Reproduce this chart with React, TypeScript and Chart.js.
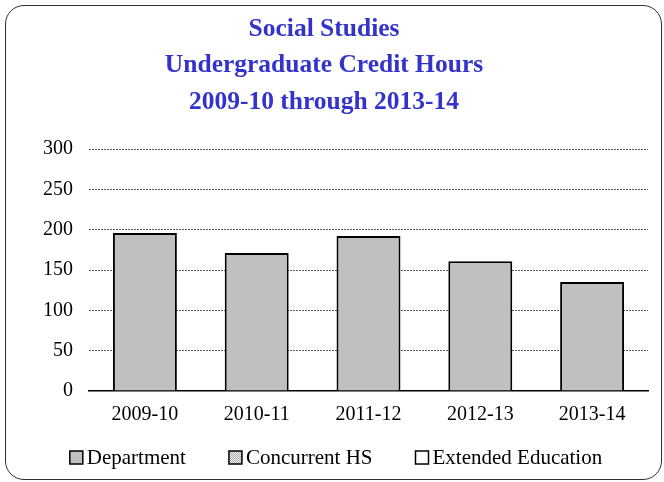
import React, { useEffect, useRef } from "react";
import { Chart, registerables } from "chart.js";

Chart.register(...registerables);

const categories = ["2009-10", "2010-11", "2011-12", "2012-13", "2013-14"];
const department = [196, 171, 192, 161, 135];
const concurrentHS = [0, 0, 0, 0, 0];
const extendedEducation = [0, 0, 0, 0, 0];
const titleLines = ["Social Studies", "Undergraduate Credit Hours", "2009-10 through 2013-14"];
const yTicks = [0, 50, 100, 150, 200, 250, 300];

const SERIF = "'Liberation Serif', 'Times New Roman', serif";

function makePattern(): CanvasPattern | string {
  const c = document.createElement("canvas");
  c.width = 2;
  c.height = 2;
  const g = c.getContext("2d");
  if (!g) return "#d8d8d8";
  g.fillStyle = "#f4f4f4";
  g.fillRect(0, 0, 2, 2);
  g.fillStyle = "#a8a8a8";
  g.fillRect(0, 0, 1, 1);
  g.fillRect(1, 1, 1, 1);
  const p = g.createPattern(c, "repeat");
  return p || "#d8d8d8";
}

const legendPlugin = {
  id: "customLegend",
  afterDraw(chart: any) {
    const ctx = chart.ctx as CanvasRenderingContext2D;
    const ds = chart.data.datasets;
    const box = 13;
    const boxGap = 4;
    const gap = 43;
    ctx.save();
    ctx.font = `21px ${SERIF}`;
    const widths = ds.map((d: any) => box + boxGap + ctx.measureText(d.label).width);
    const total = widths.reduce((a: number, b: number) => a + b, 0) + gap * (ds.length - 1);
    let x = chart.width / 2 + 4 - total / 2;
    const cy = chart.height - 24.5;
    ds.forEach((d: any, i: number) => {
      ctx.fillStyle = d.legendFill || d.backgroundColor;
      ctx.fillRect(x, cy - box / 2, box, box);
      ctx.lineWidth = 1.5;
      ctx.strokeStyle = "#000";
      ctx.strokeRect(x, cy - box / 2, box, box);
      ctx.fillStyle = "#000";
      ctx.textBaseline = "middle";
      ctx.textAlign = "left";
      ctx.fillText(d.label, x + box + boxGap, cy + 1);
      x += widths[i] + gap;
    });
    ctx.restore();
  },
};

export default function App() {
  const ref = useRef<HTMLCanvasElement | null>(null);

  useEffect(() => {
    if (!ref.current) return;
    const pattern = makePattern();
    const chart = new Chart(ref.current, {
      type: "bar",
      data: {
        labels: categories,
        datasets: [
          {
            label: "Department",
            data: department,
            backgroundColor: "#c0c0c0",
            borderColor: "#000",
            borderWidth: 2,
          } as any,
          {
            label: "Concurrent HS",
            data: concurrentHS,
            backgroundColor: pattern,
            legendFill: pattern,
            borderColor: "#000",
            borderWidth: 0,
          } as any,
          {
            label: "Extended Education",
            data: extendedEducation,
            backgroundColor: "#ffffff",
            borderColor: "#000",
            borderWidth: 0,
          } as any,
        ],
      },
      options: {
        responsive: false,
        animation: false,
        datasets: {
          bar: {
            categoryPercentage: 1,
            barPercentage: 0.572,
          },
        },
        layout: {
          padding: { left: 0, right: 16, top: 0, bottom: 43 },
        },
        plugins: {
          legend: { display: false },
          tooltip: { enabled: false },
          title: {
            display: true,
            text: titleLines,
            color: "#3333cc",
            font: { family: SERIF, size: 25.5, weight: "bold", lineHeight: 36.5 / 25.5 },
            padding: { top: 11, bottom: 28.5 },
          },
        },
        scales: {
          x: {
            stacked: true,
            grid: { display: false, drawTicks: false },
            border: { display: true, color: "#000", width: 1.5 },
            ticks: {
              color: "#000",
              font: { family: SERIF, size: 20 },
              padding: 12,
            },
          },
          y: {
            stacked: true,
            min: yTicks[0],
            max: yTicks[yTicks.length - 1],
            afterFit(scale: any) {
              scale.width = 89;
            },
            grid: {
              color: (c: any) => (c.tick && c.tick.value === 0 ? "rgba(0,0,0,0)" : "#5a5a5a"),
              lineWidth: 1,
              drawTicks: false,
            },
            border: { display: false, dash: [2, 1] },
            ticks: {
              stepSize: 50,
              color: "#000",
              font: { family: SERIF, size: 20 },
              padding: 16,
            },
          },
        },
      },
      plugins: [legendPlugin],
    });
    return () => chart.destroy();
  }, []);

  return (
    <div style={{ position: "absolute", left: 0, top: 0, width: 664, height: 482, background: "#fff" }}>
      <div
        style={{
          position: "absolute",
          left: 5,
          top: 5,
          width: 657,
          height: 475,
          boxSizing: "border-box",
          border: "1.5px solid #303030",
          borderRadius: 19,
        }}
      />
      <canvas ref={ref} width={664} height={482} style={{ position: "absolute", left: 0, top: 0, display: "block" }} />
    </div>
  );
}
